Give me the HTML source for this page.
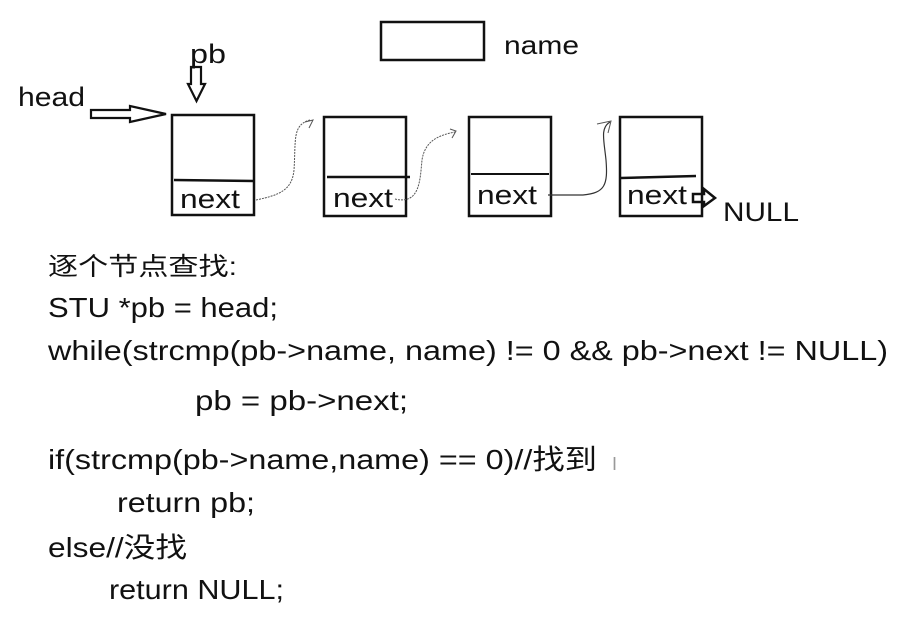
<!DOCTYPE html>
<html><head><meta charset="utf-8"><style>
html,body{margin:0;padding:0;background:#fff;}
svg{display:block;}
text{font-family:"Liberation Sans","Noto Sans CJK SC",sans-serif;fill:#111;}
</style></head><body>
<svg width="913" height="629" viewBox="0 0 913 629" xmlns="http://www.w3.org/2000/svg">
<rect x="0" y="0" width="913" height="629" fill="#fff"/>
<rect x="381" y="22" width="103" height="38" fill="none" stroke="#111" stroke-width="2.5"/>
<text x="504" y="54" font-size="26" textLength="75" lengthAdjust="spacingAndGlyphs">name</text>
<text x="190" y="63" font-size="27" textLength="36" lengthAdjust="spacingAndGlyphs">pb</text>
<text x="18" y="106" font-size="27" textLength="67" lengthAdjust="spacingAndGlyphs">head</text>
<path d="M191,67 L201,67 L201,84 L205,84 L196.5,101 L188,84 L191,84 Z" fill="none" stroke="#111" stroke-width="2.2"/>
<path d="M91,110 L130,110 L130,106 L166,114 L130,122 L130,118 L91,118 Z" fill="none" stroke="#111" stroke-width="2.2"/>
<rect x="172" y="115" width="82" height="100" fill="none" stroke="#111" stroke-width="2.5"/>
<line x1="174" y1="180" x2="254" y2="181" stroke="#111" stroke-width="2.5"/>
<text x="180" y="208" font-size="27" textLength="60" lengthAdjust="spacingAndGlyphs">next</text>
<rect x="324" y="117" width="82" height="99" fill="none" stroke="#111" stroke-width="2.5"/>
<line x1="327" y1="177" x2="410" y2="177" stroke="#111" stroke-width="2.5"/>
<text x="333" y="207" font-size="27" textLength="60" lengthAdjust="spacingAndGlyphs">next</text>
<rect x="469" y="117" width="82" height="99" fill="none" stroke="#111" stroke-width="2.5"/>
<line x1="471" y1="174" x2="549" y2="174" stroke="#111" stroke-width="2"/>
<text x="477" y="204" font-size="27" textLength="60" lengthAdjust="spacingAndGlyphs">next</text>
<rect x="620" y="117" width="82" height="99" fill="none" stroke="#111" stroke-width="2.5"/>
<line x1="621" y1="178" x2="696" y2="176" stroke="#111" stroke-width="2.5"/>
<text x="627" y="204" font-size="27" textLength="60" lengthAdjust="spacingAndGlyphs">next</text>
<path d="M256,200 C280,195 292,190 294,170 C296,140 292,125 310,120" fill="none" stroke="#555" stroke-width="1" stroke-dasharray="2,1"/>
<path d="M305,122 L313,120 L309,128" fill="none" stroke="#555" stroke-width="1"/>
<path d="M395,199 C420,205 420,180 422,160 C425,140 440,135 455,132" fill="none" stroke="#555" stroke-width="1" stroke-dasharray="2,1"/>
<path d="M450,129 L456,131 L452,138" fill="none" stroke="#555" stroke-width="1"/>
<path d="M548,195 L583,195 C605,193 608,185 606,160 C604,140 600,128 610,122" fill="none" stroke="#333" stroke-width="1.2"/>
<path d="M597,124 L611,121 L608,133" fill="none" stroke="#555" stroke-width="1"/>
<path d="M693,194 L704,194 L704,189 L715,198 L704,206 L704,202 L693,202 Z" fill="none" stroke="#111" stroke-width="2.5"/>
<text x="723" y="221" font-size="27" textLength="76" lengthAdjust="spacingAndGlyphs">NULL</text>
<text x="48" y="275" font-size="25" textLength="189" lengthAdjust="spacingAndGlyphs">逐个节点查找:</text>
<text x="48" y="317" font-size="28" textLength="230" lengthAdjust="spacingAndGlyphs">STU *pb = head;</text>
<text x="48" y="360" font-size="28" textLength="840" lengthAdjust="spacingAndGlyphs">while(strcmp(pb-&gt;name, name) != 0 &amp;&amp; pb-&gt;next != NULL)</text>
<text x="195" y="410" font-size="28" textLength="213" lengthAdjust="spacingAndGlyphs">pb = pb-&gt;next;</text>
<text x="48" y="469" font-size="28" textLength="549" lengthAdjust="spacingAndGlyphs">if(strcmp(pb-&gt;name,name) == 0)//找到</text>
<text x="612" y="470" font-size="18" style="fill:#999">I</text>
<text x="117" y="512" font-size="28" textLength="138" lengthAdjust="spacingAndGlyphs">return pb;</text>
<text x="48" y="557" font-size="28" textLength="139" lengthAdjust="spacingAndGlyphs">else//没找</text>
<text x="109" y="599" font-size="28" textLength="175" lengthAdjust="spacingAndGlyphs">return NULL;</text>
</svg>
</body></html>
